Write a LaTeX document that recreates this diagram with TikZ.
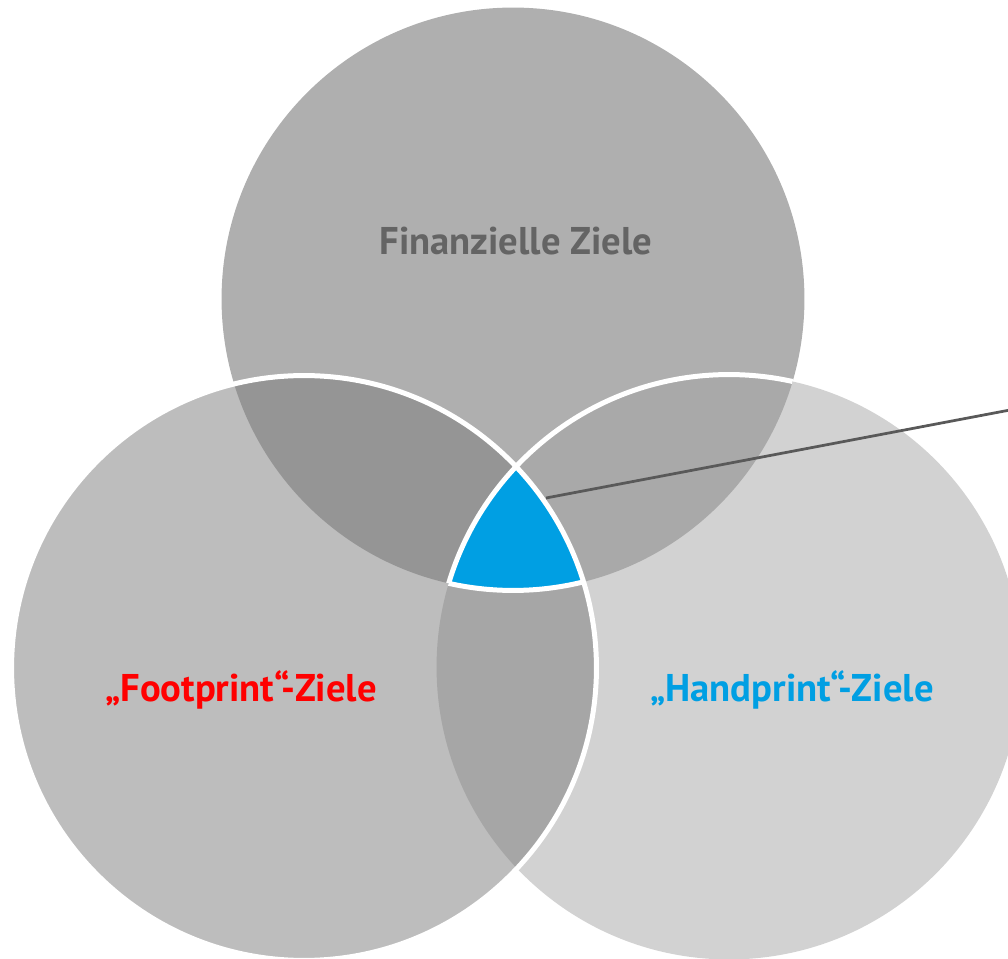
\documentclass[tikz,border=0pt]{standalone}
\usepackage{fontspec}
\setmainfont{PT Sans}
\usepackage{xcolor}
\definecolor{topgray}{HTML}{AFAFAF}
\definecolor{leftgray}{HTML}{BDBDBD}
\definecolor{rightgray}{HTML}{D2D2D2}
\definecolor{tlgray}{HTML}{959595}
\definecolor{trgray}{HTML}{A9A9A9}
\definecolor{lrgray}{HTML}{A6A6A6}
\definecolor{coreblue}{HTML}{009FE3}
\definecolor{textgray}{HTML}{646464}
\definecolor{pingray}{HTML}{595959}

\begin{document}
\begin{tikzpicture}[x=0.02cm, y=-0.02cm,
    goal/.style={font=\bfseries\fontsize{22}{26}\selectfont},
    rim/.style={white, line width=0.1cm}]
        \useasboundingbox (0,0) rectangle (1008,959);
        \clip (0,0) rectangle (1008,959);
        \coordinate (T) at (513,299);
        \coordinate (L) at (304,668);
        \coordinate (R) at (729,667);

        \fill[topgray] (T) circle (5.83cm);
        \fill[rightgray] (R) circle (5.85cm);
        \fill[leftgray] (L) circle (5.85cm);

        \begin{scope}
            \clip (T) circle (5.83cm);
            \fill[tlgray] (L) circle (5.85cm);
            \fill[trgray] (R) circle (5.85cm);
        \end{scope}
        \begin{scope}
            \clip (L) circle (5.85cm);
            \fill[lrgray] (R) circle (5.85cm);
            \clip (T) circle (5.83cm);
            \fill[coreblue] (R) circle (5.85cm);
        \end{scope}

        % white rims
        \draw[rim] (L) circle (5.85cm);
        \begin{scope}
            \clip (T) circle (5.83cm);
            \draw[rim] (R) circle (5.85cm);
        \end{scope}
        \begin{scope}
            \clip (L) circle (5.85cm);
            \clip (R) circle (5.85cm);
            \draw[rim] (T) circle (5.83cm);
        \end{scope}

        \coordinate (pin) at (546,498);
        \coordinate (pinend) at (1010,410);
        \draw[pingray, line width=0.055cm] (pin) -- (pinend);

        \node[goal, text=textgray] (fin) at (516,241) {Finanzielle Ziele};
        \node[goal, text=red] (foot) at (241,690) {„Footprint“-Ziele};
        \node[goal, text=coreblue] (hand) at (792,690) {„Handprint“-Ziele};
    \end{tikzpicture}
\end{document}
